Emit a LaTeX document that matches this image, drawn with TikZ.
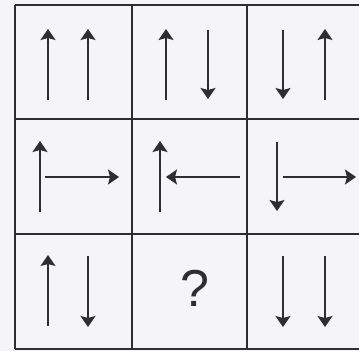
\documentclass[tikz,border=0pt]{standalone}
\usepackage{fontspec}
\setmainfont{Liberation Sans}
\usetikzlibrary{arrows.meta}
\definecolor{bg}{RGB}{245,245,248}
\definecolor{ink}{RGB}{45,45,50}
\tikzset{
  gridline/.style={draw=ink, line width=2.2pt},
  arr/.style={draw=ink, line width=1.7pt, -{Stealth[width=15pt,length=11pt,inset=2pt]}},
}
\begin{document}
\begin{tikzpicture}[x=1pt,y=-1pt]
\fill[bg] (0,0) rectangle (359,351);
\useasboundingbox (0,0) rectangle (359,351);
% grid
\draw[gridline] (15,5) -- (15,349);
\draw[gridline] (132,5) -- (132,349);
\draw[gridline] (247,5) -- (247,349);
\draw[gridline] (15,5) -- (359,5);
\draw[gridline] (15,119) -- (359,119);
\draw[gridline] (15,234) -- (359,234);
\draw[gridline] (15,349) -- (359,349);
% row 1
\draw[arr] (48,100) -- (48,29);
\draw[arr] (88,100) -- (88,29);
\draw[arr] (166,100) -- (166,29);
\draw[arr] (208,30) -- (208,99);
\draw[arr] (283,30) -- (283,99);
\draw[arr] (325,100) -- (325,29);
% row 2
\draw[arr] (40,212) -- (40,141);
\draw[arr] (45,177) -- (119,177);
\draw[arr] (160,212) -- (160,141);
\draw[arr] (240,177) -- (166,177);
\draw[arr] (277,142) -- (277,211);
\draw[arr] (283,177) -- (356,177);
% row 3
\draw[arr] (48,326) -- (48,255);
\draw[arr] (88,256) -- (88,327);
\node[text=ink, font=\fontsize{52}{52}\selectfont, inner sep=0pt] (q) at (195,288) {?};
\draw[arr] (283,256) -- (283,327);
\draw[arr] (325,256) -- (325,327);
\end{tikzpicture}
\end{document}
